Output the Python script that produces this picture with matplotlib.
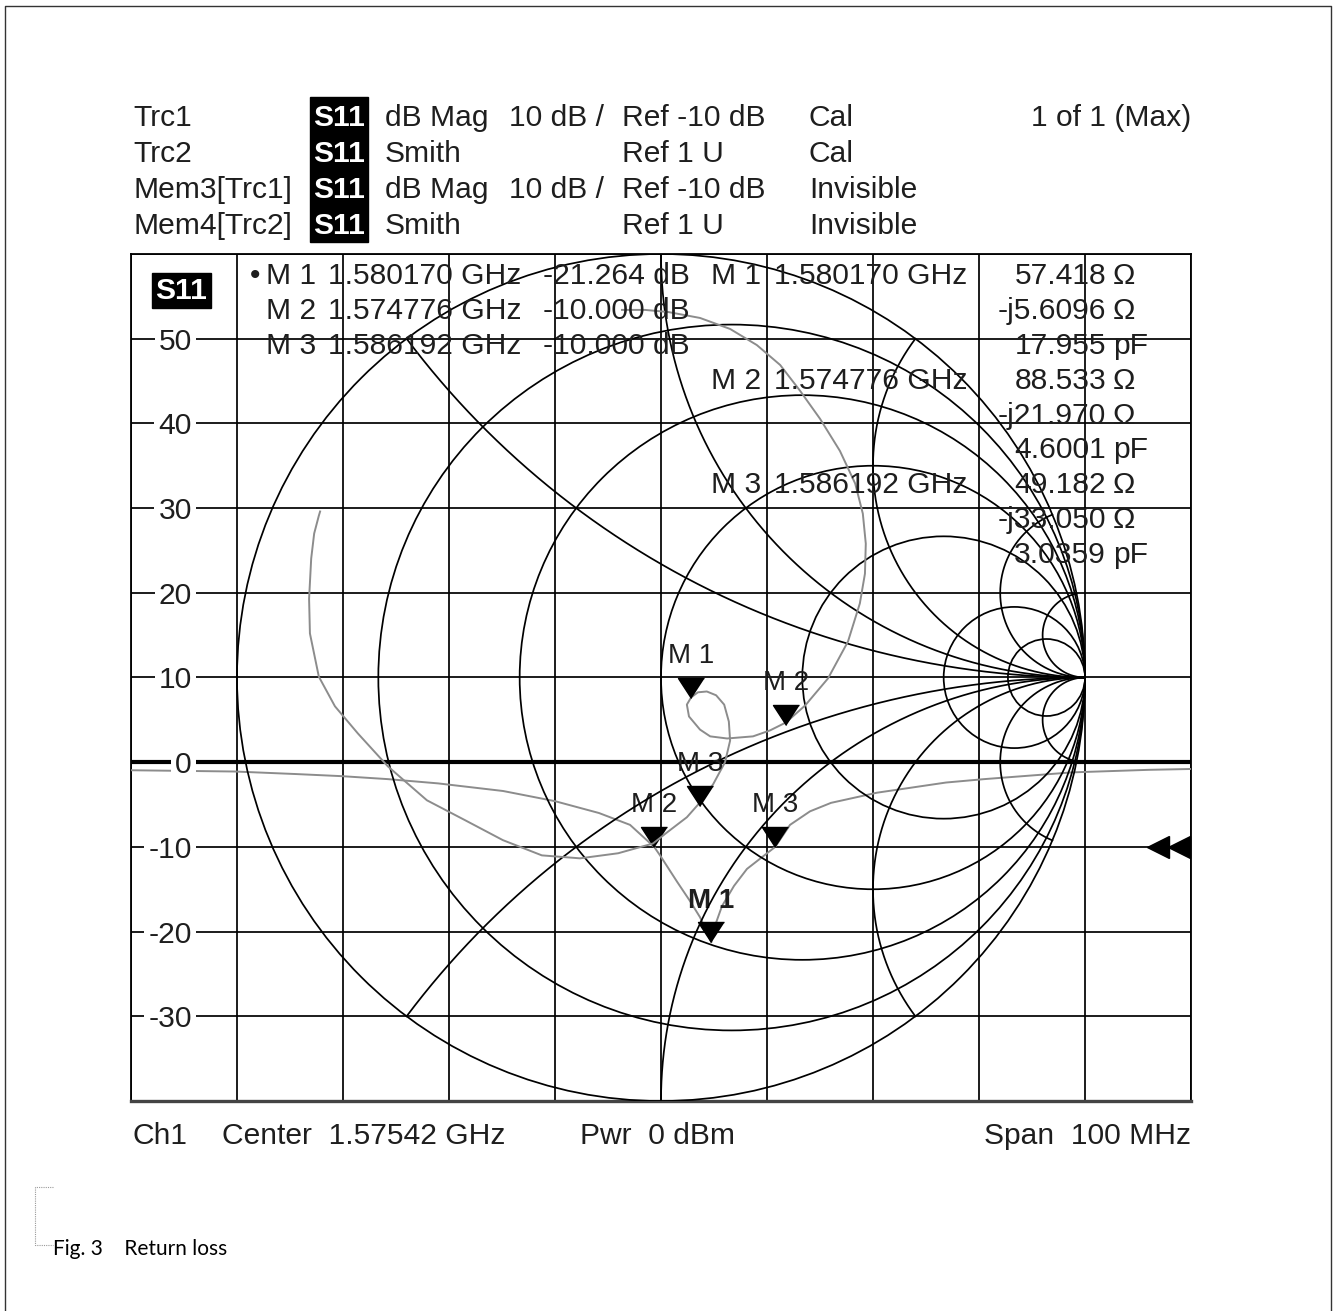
import numpy as np
import matplotlib
matplotlib.use('Agg')
import matplotlib.pyplot as plt
from matplotlib.patches import Rectangle, Circle
import matplotlib.transforms as mtransforms

# ---------------- data ----------------
center_ghz = 1.57542
span_ghz = 0.100
f_start = center_ghz - span_ghz / 2
f_stop = center_ghz + span_ghz / 2

# Trc1: S11 dB magnitude
db_freq_ghz = [1.52542, 1.53523, 1.54099, 1.54533, 1.54967, 1.55438, 1.56052,
               1.56542, 1.56957, 1.57250, 1.574776, 1.57533, 1.57693, 1.57816,
               1.57910, 1.57958, 1.580170, 1.58060, 1.58117, 1.58231, 1.58353,
               1.586192, 1.58759, 1.58948, 1.59146, 1.59580, 1.60231, 1.60589,
               1.61420, 1.62146, 1.62542]
db_mag = [-0.95, -1.1, -1.4, -1.65, -2.0, -2.5, -3.4,
          -4.6, -6.0, -7.4, -10.0, -11.0, -14.1, -16.4,
          -18.3, -19.6, -21.264, -19.0, -17.0, -14.6, -12.6,
          -10.0, -7.4, -5.8, -4.8, -3.6, -2.4, -2.0,
          -1.2, -0.9, -0.8]

# Trc2: S11 on Smith chart (reflection coefficient, real / imaginary)
smith_re = [-0.092, -0.038, 0.017, 0.092, 0.163, 0.226, 0.281, 0.328, 0.375,
            0.422, 0.458, 0.476, 0.483, 0.481, 0.469, 0.441, 0.394, 0.340,
            0.295, 0.257, 0.217, 0.156, 0.116, 0.092, 0.066, 0.061, 0.071,
            0.087, 0.108, 0.130, 0.149, 0.160, 0.163, 0.151, 0.123, 0.092,
            0.061, 0.014, -0.019, -0.101, -0.191, -0.281, -0.373, -0.462,
            -0.552, -0.644, -0.715, -0.769, -0.807, -0.828, -0.830, -0.825,
            -0.818, -0.807, -0.804]
smith_im = [0.868, 0.868, 0.863, 0.849, 0.823, 0.785, 0.738, 0.677, 0.611,
            0.535, 0.458, 0.387, 0.316, 0.245, 0.175, 0.085, -0.002, -0.066,
            -0.106, -0.125, -0.139, -0.144, -0.139, -0.123, -0.092, -0.064, -0.047,
            -0.035, -0.033, -0.042, -0.064, -0.104, -0.149, -0.200, -0.252, -0.295,
            -0.330, -0.366, -0.392, -0.415, -0.427, -0.420, -0.384, -0.337,
            -0.290, -0.210, -0.132, -0.068, 0.002, 0.104, 0.186, 0.281,
            0.340, 0.382, 0.392]

marker_names = ['M 1', 'M 2', 'M 3']
marker_freq_ghz = [1.580170, 1.574776, 1.586192]
marker_db = [-21.264, -10.000, -10.000]
marker_R = [57.418, 88.533, 49.182]
marker_X = [-5.6096, -21.970, -33.050]
marker_C_pF = [17.955, 4.6001, 3.0359]
z0 = 50.0

y_tick_values = [50, 40, 30, 20, 10, 0, -10, -20, -30]
smith_r_circles = [0.2, 0.5, 1, 2, 5, 10]
smith_x_arcs = [0.5, 1, 2, 5, 10]
ref_level_db = -10

header_rows = [
    ("Trc1", "dB Mag", "10 dB /", "Ref -10 dB", "Cal"),
    ("Trc2", "Smith", "", "Ref 1 U", "Cal"),
    ("Mem3[Trc1]", "dB Mag", "10 dB /", "Ref -10 dB", "Invisible"),
    ("Mem4[Trc2]", "Smith", "", "Ref 1 U", "Invisible"),
]

# ---------------- figure ----------------
W, H, DPI = 1335, 1311, 100
FONT = 'Liberation Sans'
FS = 21.6          # ~30 px em
TXT = '#1e1e1e'
TRACE = '#8c8c8c'
plt.rcParams['font.family'] = [FONT, 'DejaVu Sans']

fig = plt.figure(figsize=(W / DPI, H / DPI), dpi=DPI)
fig.patch.set_facecolor('white')

L, R, T, B = 131, 1191, 254, 1101
pos = [L / W, 1 - B / H, (R - L) / W, (B - T) / H]

# main dB axes
ax = fig.add_axes(pos)
ax.set_zorder(1)
ax.set_xlim(f_start, f_stop)
ax.set_ylim(-40, 60)
ax.set_xticks(np.linspace(f_start, f_stop, 11))
ax.set_yticks(np.arange(-40, 61, 10))
ax.tick_params(length=0, labelleft=False, labelbottom=False)
ax.grid(True, color='black', lw=1.25)
for s in ax.spines.values():
    s.set_color('black')
    s.set_linewidth(1.3)
ax.spines['bottom'].set_linewidth(2.4)
ax.spines['bottom'].set_color('#444444')
ax.axhline(0, color='black', lw=3.0, zorder=2)
ax.plot(db_freq_ghz, db_mag, color=TRACE, lw=1.4, zorder=3)

tri = [(0, 0), (-1.3, 2), (1.3, 2)]
ax.plot(marker_freq_ghz, marker_db, linestyle='none', marker=tri,
        markersize=28.8, color='black', zorder=6, clip_on=False)
for name, f, d in zip(marker_names, marker_freq_ghz, marker_db):
    ax.annotate(name, xy=(f, d), xytext=(0, 30), textcoords='offset points',
                ha='center', va='center', fontsize=20, color=TXT,
                fontweight='bold' if name == 'M 1' else 'normal', zorder=7)

# y labels with white boxes
blend = mtransforms.blended_transform_factory(ax.transAxes, ax.transData)
for v in y_tick_values:
    ax.text((192 - L) / (R - L), v, f"{v}", transform=blend, ha='right',
            va='center_baseline', fontsize=FS, color=TXT, zorder=8,
            bbox=dict(facecolor='white', edgecolor='none', pad=3.0))

# reference level indicator (double left triangles)
for xf in [(1158 - L) / (R - L), (1179 - L) / (R - L)]:
    ax.plot([xf], [ref_level_db], transform=blend, marker='<', markersize=15.5,
            color='black', linestyle='none', clip_on=False, zorder=8)

# Smith chart overlay
sax = fig.add_axes(pos, frameon=False)
sax.set_zorder(2)
sax.patch.set_alpha(0)
sax.set_xlim(-1.25, 1.25)
sax.set_ylim(-1, 1)
sax.axis('off')
lw_s = 1.25
sax.add_patch(Circle((0, 0), 1, fill=False, ec='black', lw=lw_s))
for r in smith_r_circles:
    sax.add_patch(Circle((r / (1 + r), 0), 1 / (1 + r), fill=False, ec='black', lw=lw_s))
rr = np.concatenate([[0.0], np.tan(np.linspace(1e-4, np.pi / 2 - 1e-4, 1500))])
for xv in smith_x_arcs:
    for sgn in (1, -1):
        z = rr + 1j * sgn * xv
        g = (z - 1) / (z + 1)
        sax.plot(g.real, g.imag, color='black', lw=lw_s)
sax.plot(smith_re, smith_im, color=TRACE, lw=1.4, zorder=4)

gam = [((R_ + 1j * X_) / z0 - 1) / ((R_ + 1j * X_) / z0 + 1) for R_, X_ in zip(marker_R, marker_X)]
sax.plot([g.real for g in gam], [g.imag for g in gam], linestyle='none', marker=tri,
         markersize=28.8, color='black', zorder=6)
for name, g in zip(marker_names, gam):
    sax.annotate(name, xy=(g.real, g.imag), xytext=(0, 30), textcoords='offset points',
                 ha='center', va='center', fontsize=20, color=TXT, zorder=7)

# text overlay in pixel coords
tx = fig.add_axes([0, 0, 1, 1], frameon=False)
tx.set_zorder(5)
tx.set_xlim(0, W)
tx.set_ylim(H, 0)
tx.axis('off')

def t(x, y, s, ha='left', **kw):
    kw.setdefault('fontsize', FS)
    kw.setdefault('color', TXT)
    tx.text(x, y, s, ha=ha, va='baseline', **kw)

# outer border (top, left, right)
tx.plot([5, 5, 1331, 1331], [H + 5, 6, 6, H + 5], color='#333333', lw=1.0, clip_on=False)

# header
tx.add_patch(Rectangle((310, 97), 58, 145, color='black'))
for i, (name, meas, scale, ref, state) in enumerate(header_rows):
    yb = 126 + 36 * i
    t(133, yb, name)
    t(339, yb, "S11", ha='center', color='white', fontweight='bold')
    t(385, yb, meas)
    if scale:
        t(509, yb, scale)
    t(622, yb, ref)
    t(809, yb, state)
t(1191, 126, "1 of 1 (Max)", ha='right')

# trace label box inside plot
tx.add_patch(Rectangle((152, 273), 59, 35, color='black', zorder=6))
tx.text(181.5, 291, "S11", ha='center', va='center', fontsize=FS, color='white',
        fontweight='bold', zorder=7)

# marker table
rows_b = [284 + 34.9 * k for k in range(9)]
t(255, rows_b[0], "\u2022", ha='center')
for k, (name, f, d) in enumerate(zip(marker_names, marker_freq_ghz, marker_db)):
    yb = rows_b[k]
    t(266, yb, name)
    t(328, yb, f"{f:.6f} GHz")
    t(543, yb, f"{d:.3f} dB")
for k, (name, f, R_, X_, C_) in enumerate(zip(marker_names, marker_freq_ghz,
                                              marker_R, marker_X, marker_C_pF)):
    yb = rows_b[3 * k]
    t(711, yb, name)
    t(774, yb, f"{f:.6f} GHz")
    vals = [(f"{R_:.3f}", "\u03a9"), (f"-j{abs(X_):#.5g}", "\u03a9"), (f"{C_:#.5g}", "pF")]
    for j, (num, unit) in enumerate(vals):
        t(1106, rows_b[3 * k + j], num, ha='right')
        t(1113, rows_b[3 * k + j], unit)

# footer
t(133, 1144, "Ch1")
t(222, 1144, "Center  1.57542 GHz")
t(580, 1144, "Pwr  0 dBm")
t(1191, 1144, "Span  100 MHz", ha='right')

# caption with dotted bracket
tx.plot([53, 35, 35, 53], [1187, 1187, 1245, 1245], color='#9a9a9a', lw=0.8,
        linestyle=(0, (1, 1)))
tx.text(53, 1255, "Fig. 3    Return loss", ha='left', va='baseline', fontsize=15,
        color='black', family=['Lato', 'DejaVu Sans'])

fig.savefig('out.png', dpi=DPI, facecolor='white')
